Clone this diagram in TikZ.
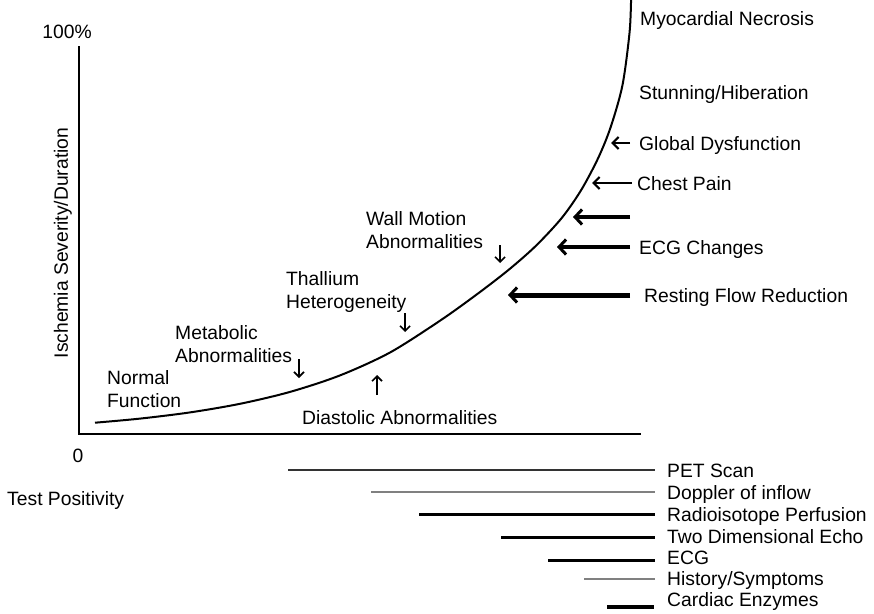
\documentclass[tikz,border=0pt]{standalone}
\usepackage{fontspec}
\setmainfont{Liberation Sans}
\usetikzlibrary{arrows.meta}
\begin{document}
\begin{tikzpicture}[x=1pt,y=-1pt,
  txt/.style={inner sep=0pt,font=\fontsize{19.3}{23}\selectfont},
  lbl/.style={txt,anchor=base west},
  two/.style={txt,anchor=north west,align=left},
  axis/.style={line width=2pt,line cap=rect},
  curve/.style={line width=2pt},
  small/.style={line width=1.6pt,-{Straight Barb[length=5pt,width=10pt,line width=1.6pt]}},
  thin arr/.style={line width=2.2pt,-{Straight Barb[length=6pt,width=12pt,line width=2.2pt]}},
  thick arr/.style={line width=4.5pt,-{Straight Barb[length=7pt,width=15pt,line width=3pt]}},
  darkbar/.style={line width=3pt,black},
  midbar/.style={line width=1.6pt,black!80},
  greybar/.style={line width=1.2pt,black!50}]
\useasboundingbox (0,0) rectangle (874,613);
% axes
\coordinate (ytop) at (79,47);
\coordinate (orig) at (79,434);
\coordinate (xend) at (640,434);
\draw[axis] (ytop) -- (orig) -- (xend);
\node[txt,anchor=base] (p100) at (67,38) {100\%};
\node[txt,anchor=base] (zero) at (78,462) {0};
\node[txt,rotate=90] (ylab) at (63,243) {Ischemia Severity/Duration};
\node[lbl] (testpos) at (7,505) {Test Positivity};
% curve
\draw[curve] plot[smooth,tension=0.5] coordinates {(95,422.7) (140,418.6) (190,412.4) (240,403.8) (290,391.9) (340,375.4) (390,352.5) (440,320.7) (475.3,295.5) (507.8,270.5) (535.7,246) (561.7,218) (581.2,190) (598.2,158) (610.7,127) (622.5,85) (629.5,33) (631.1,0) (631.3,-6)};
% left labels
\node[two] (wall) at (366,211) {Wall Motion\\Abnormalities};
\node[two] (thal) at (286,271) {Thallium\\Heterogeneity};
\node[two] (meta) at (175,325) {Metabolic\\Abnormalities};
\node[two] (norm) at (107,370) {Normal\\Function};
\node[lbl] (dias) at (302,424) {Diastolic Abnormalities};
\coordinate (wallA) at (500,245); \coordinate (wallB) at (500,263);
\coordinate (thalA) at (405,313); \coordinate (thalB) at (405,332);
\coordinate (metaA) at (299,359); \coordinate (metaB) at (299,378);
\coordinate (diasA) at (377,395); \coordinate (diasB) at (377,375);
\draw[small] (wallA) -- (wallB);
\draw[small] (thalA) -- (thalB);
\draw[small] (metaA) -- (metaB);
\draw[small] (diasA) -- (diasB);
% right labels
\node[lbl] (necr) at (640,25) {Myocardial Necrosis};
\node[lbl] (stun) at (639,99) {Stunning/Hiberation};
\node[lbl] (glob) at (639,150) {Global Dysfunction};
\node[lbl] (chest) at (637,190) {Chest Pain};
\node[lbl] (ecgc) at (639,254) {ECG Changes};
\node[lbl] (rest) at (644,302) {Resting Flow Reduction};
\coordinate (globT) at (630,143); \coordinate (globH) at (611,143);
\coordinate (chestT) at (632,183); \coordinate (chestH) at (592,183);
\coordinate (unT) at (630,217); \coordinate (unH) at (573,217);
\coordinate (ecgT) at (630,247); \coordinate (ecgH) at (557,247);
\coordinate (restT) at (630,295); \coordinate (restH) at (508,295);
\draw[thin arr] (globT) -- (globH);
\draw[thin arr] (chestT) -- (chestH);
\draw[thick arr] (unT) -- (unH);
\draw[thick arr] (ecgT) -- (ecgH);
\draw[thick arr,line width=5pt] (restT) -- (restH);
% test positivity bars
\node[lbl] (pet) at (667,477) {PET Scan};
\node[lbl] (dop) at (667,499) {Doppler of inflow};
\node[lbl] (radio) at (667,521) {Radioisotope Perfusion};
\node[lbl] (echo) at (667,543) {Two Dimensional Echo};
\node[lbl] (ecg) at (667,564) {ECG};
\node[lbl] (hist) at (667,585) {History/Symptoms};
\node[lbl] (enz) at (667,606) {Cardiac Enzymes};
\coordinate (petA) at (288,470); \coordinate (petB) at (655,470);
\coordinate (dopA) at (371,492); \coordinate (dopB) at (655,492);
\coordinate (radA) at (419,514); \coordinate (radB) at (655,514);
\coordinate (echA) at (501,537); \coordinate (echB) at (655,537);
\coordinate (ecgA) at (548,560); \coordinate (ecgB) at (655,560);
\coordinate (hisA) at (584,579); \coordinate (hisB) at (655,579);
\coordinate (enzA) at (607,607); \coordinate (enzB) at (654,607);
\draw[midbar] (petA) -- (petB);
\draw[greybar] (dopA) -- (dopB);
\draw[darkbar] (radA) -- (radB);
\draw[darkbar] (echA) -- (echB);
\draw[darkbar] (ecgA) -- (ecgB);
\draw[greybar] (hisA) -- (hisB);
\draw[darkbar,line width=4pt] (enzA) -- (enzB);
\end{tikzpicture}
\end{document}
